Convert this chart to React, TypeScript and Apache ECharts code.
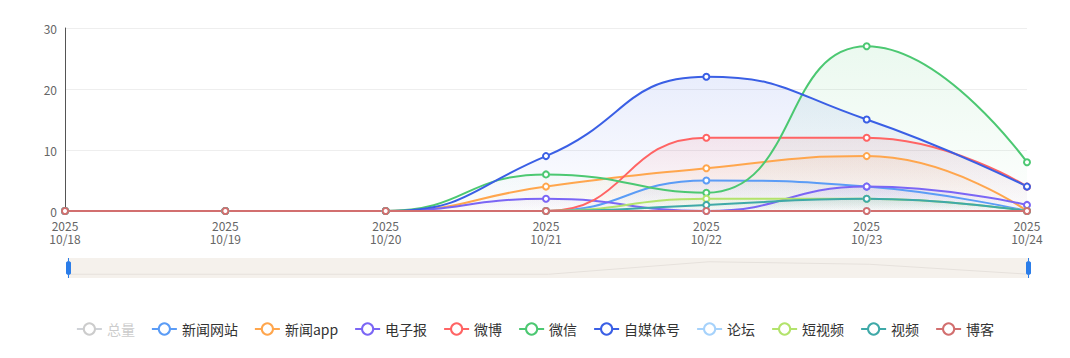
import React, { useEffect, useRef } from "react";
import * as echarts from "echarts";

const dates = ["2025/10/18", "2025/10/19", "2025/10/20", "2025/10/21", "2025/10/22", "2025/10/23", "2025/10/24"];
const seriesNames = ["总量", "新闻网站", "新闻app", "电子报", "微博", "微信", "自媒体号", "论坛", "短视频", "视频", "博客"];
const seriesColors = ["#cccccc", "#5b9cf6", "#ffa64d", "#7b66f5", "#ff6464", "#4cc872", "#3a5fe5", "#a6d2fb", "#b3e36c", "#3fa9a8", "#d26f6f"];

const total = [0, 0, 0, 21, 52, 75, 17];
const newsSite = [0, 0, 0, 0, 5, 4, 0];
const newsApp = [0, 0, 0, 4, 7, 9, 0];
const ePaper = [0, 0, 0, 2, 0, 4, 1];
const weibo = [0, 0, 0, 0, 12, 12, 4];
const weixin = [0, 0, 0, 6, 3, 27, 8];
const selfMedia = [0, 0, 0, 9, 22, 15, 4];
const forum = [0, 0, 0, 0, 0, 0, 0];
const shortVideo = [0, 0, 0, 0, 2, 2, 0];
const video = [0, 0, 0, 0, 1, 2, 0];
const blog = [0, 0, 0, 0, 0, 0, 0];

const seriesData = [total, newsSite, newsApp, ePaper, weibo, weixin, selfMedia, forum, shortVideo, video, blog];

const yMax = 30;
const yInterval = 10;

function hexA(hex: string, a: number) {
  const r = parseInt(hex.slice(1, 3), 16);
  const g = parseInt(hex.slice(3, 5), 16);
  const b = parseInt(hex.slice(5, 7), 16);
  return `rgba(${r},${g},${b},${a})`;
}

export default function App() {
  const ref = useRef<HTMLDivElement>(null);
  useEffect(() => {
    if (!ref.current) return;
    const chart = echarts.init(ref.current, undefined, { renderer: "svg" });
    const font = "'Noto Sans CJK SC', 'Noto Sans', sans-serif";
    chart.setOption({
      animation: false,
      textStyle: { fontFamily: font },
      grid: { left: 57, right: 35, top: 20, bottom: 139, containLabel: false },
      legend: {
        bottom: 9,
        left: "center",
        itemWidth: 25,
        itemHeight: 14,
        itemGap: 16,
        selected: { 总量: false },
        inactiveColor: "#ccc",
        textStyle: { fontSize: 14, color: "#333", fontFamily: font },
        data: seriesNames,
      },
      xAxis: {
        type: "category",
        boundaryGap: false,
        data: dates,
        axisLine: { show: true, lineStyle: { color: "#999" } },
        axisTick: { show: false },
        axisLabel: {
          color: "#666",
          fontSize: 12,
          lineHeight: 13,
          margin: 8,
          formatter: (v: string) => {
            const p = v.split("/");
            return p[0] + "\n" + p[1] + "/" + p[2];
          },
        },
      },
      yAxis: {
        type: "value",
        min: 0,
        max: yMax,
        interval: yInterval,
        axisLine: { show: true, lineStyle: { color: "#555" } },
        axisTick: { show: false },
        axisLabel: { color: "#666", fontSize: 12 },
        splitLine: { lineStyle: { color: "#eee" } },
      },
      dataZoom: [
        {
          type: "slider",
          xAxisIndex: 0,
          start: 0,
          end: 100,
          left: 57,
          right: 35,
          top: 250,
          height: 20,
          showDetail: false,
          brushSelect: false,
          moveHandleSize: 0,
          backgroundColor: "#f5f1ec",
          fillerColor: "rgba(0,0,0,0)",
          borderColor: "transparent",
          handleStyle: { color: "#2b7de9", borderColor: "#2b7de9" },
          dataBackground: {
            lineStyle: { color: "#e6e1dc", width: 1 },
            areaStyle: { color: "rgba(0,0,0,0)" },
          },
          selectedDataBackground: {
            lineStyle: { color: "#e6e1dc", width: 1 },
            areaStyle: { color: "rgba(0,0,0,0)" },
          },
        },
      ],
      series: seriesNames.map((name, i) => ({
        name,
        type: "line",
        smooth: true,
        symbol: "emptyCircle",
        symbolSize: 6,
        data: seriesData[i],
        color: seriesColors[i],
        lineStyle: { width: 2, color: seriesColors[i] },
        itemStyle: { color: seriesColors[i], borderWidth: 2 },
        areaStyle: {
          color: new echarts.graphic.LinearGradient(0, 0, 0, 1, [
            { offset: 0, color: hexA(seriesColors[i], 0.16) },
            { offset: 1, color: hexA(seriesColors[i], 0.01) },
          ]),
        },
      })),
    });
    return () => chart.dispose();
  }, []);
  return <div ref={ref} style={{ width: 1054, height: 342 }} />;
}
